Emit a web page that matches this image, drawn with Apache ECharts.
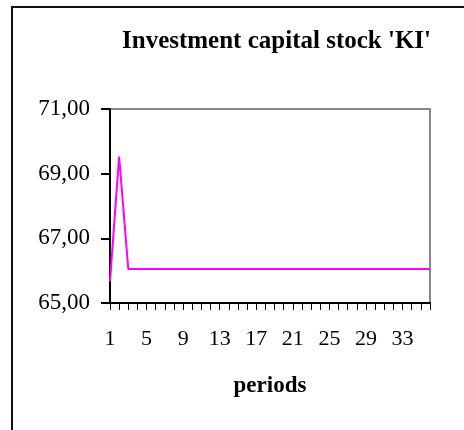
<!DOCTYPE html>
<html>
<head>
<meta charset="utf-8">
<script src="https://cdn.jsdelivr.net/npm/echarts@6/dist/echarts.min.js"></script>
<style>
  html, body { margin: 0; padding: 0; background: #fff; }
  #chart { width: 464px; height: 430px; }
</style>
</head>
<body>
<div id="chart"></div>
<script>
// periods 1..36
const periods = ['1','2','3','4','5','6','7','8','9','10','11','12','13','14','15','16','17','18',
  '19','20','21','22','23','24','25','26','27','28','29','30','31','32','33','34','35','36'];
// KI values
const kiValues = [65.67, 69.53, 66.05, 66.05, 66.05, 66.05, 66.05, 66.05, 66.05, 66.05, 66.05, 66.05,
  66.05, 66.05, 66.05, 66.05, 66.05, 66.05, 66.05, 66.05, 66.05, 66.05, 66.05, 66.05,
  66.05, 66.05, 66.05, 66.05, 66.05, 66.05, 66.05, 66.05, 66.05, 66.05, 66.05, 66.05];
const yMin = 65;
const yMax = 71;
const yStep = 2;

const serif = '"Liberation Serif", "DejaVu Serif", serif';

const chart = echarts.init(document.getElementById('chart'));
const option = {
  animation: false,
  backgroundColor: '#fff',
  title: {
    text: "Investment capital stock 'KI'",
    left: 117,
    top: 24,
    textStyle: { fontFamily: serif, fontSize: 25, fontWeight: 'bold', color: '#000' }
  },
  graphic: [
    // outer chart frame (runs off the right and bottom edge)
    {
      type: 'rect',
      shape: { x: 12, y: 7, width: 600, height: 600 },
      style: { fill: 'none', stroke: '#111', lineWidth: 2 },
      silent: true
    }
  ],
  grid: {
    left: 110, right: 34, top: 109, bottom: 127,
    show: true, borderColor: '#888', borderWidth: 2, backgroundColor: '#fff'
  },
  xAxis: {
    type: 'category',
    data: periods,
    boundaryGap: false,
    name: 'periods',
    nameLocation: 'middle',
    nameGap: 72,
    nameTextStyle: { fontFamily: serif, fontSize: 23, fontWeight: 'bold', color: '#000' },
    axisLine: { lineStyle: { color: '#000', width: 2 } },
    axisTick: { interval: 0, length: 7, lineStyle: { color: '#000', width: 1 } },
    axisLabel: { interval: 3, margin: 25, fontFamily: serif, fontSize: 22, color: '#000' },
    splitLine: { show: false }
  },
  yAxis: {
    type: 'value',
    min: yMin, max: yMax, interval: yStep,
    axisLine: { show: true, lineStyle: { color: '#000', width: 2 } },
    axisTick: { show: true, length: 9, lineStyle: { color: '#000', width: 2 } },
    axisLabel: {
      margin: 20, fontFamily: serif, fontSize: 23, color: '#000',
      formatter: v => v.toFixed(2).replace('.', ',')
    },
    splitLine: { show: false }
  },
  series: [{
    type: 'line',
    data: kiValues,
    symbol: 'none',
    lineStyle: { color: '#ff00ff', width: 2 },
    itemStyle: { color: '#ff00ff' }
  }]
};
chart.setOption(option);
</script>
</body>
</html>
